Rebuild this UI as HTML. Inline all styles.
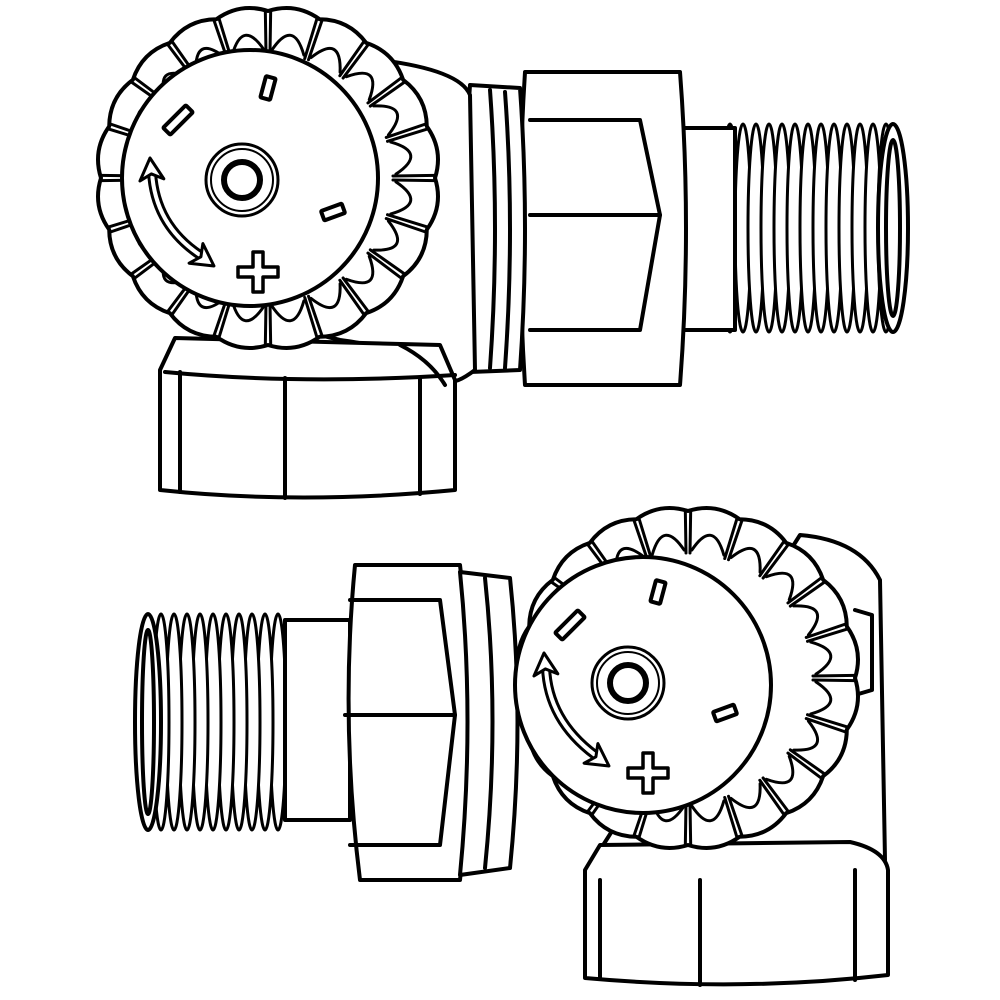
<!DOCTYPE html>
<html><head><meta charset="utf-8"><style>html,body{margin:0;padding:0;background:#fff}svg{display:block}</style></head>
<body>
<svg id="s" width="1000" height="1000" viewBox="0 0 1000 1000" xmlns="http://www.w3.org/2000/svg" fill="#fff" stroke="#000" stroke-width="4" stroke-linejoin="round" stroke-linecap="round">
<g id="top">
  <g id="thr1"></g>
  <ellipse cx="893" cy="228" rx="15" ry="104"/>
  <ellipse cx="893" cy="228" rx="7" ry="88"/>
  <rect x="655" y="128" width="80" height="202"/>
  <path d="M525 72 L680 72 Q692 228 680 385 L525 385 Q515 228 525 72Z"/>
  <path d="M530 120 L640 120 L660 215 L640 330 L530 330" fill="none"/>
  <line x1="530" y1="215" x2="660" y2="215"/>
  <path d="M470 85 L520 88 Q530 228 520 370 L470 372 Q460 228 470 85Z"/>
  <path d="M490 90 Q500 228 490 368" fill="none"/>
  <path d="M505 92 Q515 228 505 368" fill="none"/>
  <path d="M380 60 Q460 70 470 95 L475 370 Q455 385 450 380 L420 360 Q380 345 340 340 L300 330 Z"/>
  <path d="M175 338 L440 345 L455 380 L455 490 Q300 505 160 490 L160 370 Z"/>
  <path d="M165 372 Q300 385 455 375" fill="none"/>
  <line x1="180" y1="372" x2="180" y2="492"/>
  <line x1="285" y1="378" x2="285" y2="498"/>
  <line x1="420" y1="378" x2="420" y2="494"/>
  <path d="M400 345 Q430 360 445 385" fill="none"/>
  <g id="knob1"></g>
</g>
<g id="bot">
  <g id="thr2"></g>
  <rect x="285" y="620" width="65" height="200"/>
  <path d="M355 565 L460 565 Q478 720 460 880 L360 880 Q340 720 355 565Z"/>
  <path d="M350 600 L440 600 L455 715 L440 845 L350 845" fill="none"/>
  <line x1="345" y1="715" x2="455" y2="715"/>
  <path d="M460 572 L510 578 Q525 720 510 868 L460 875 Q475 720 460 572Z"/>
  <path d="M485 578 Q500 720 485 868" fill="none"/>
  <path d="M800 535 Q860 540 880 580 L885 860 Q870 870 850 860 L600 850 Z"/>
  <path d="M855 610 L872 615 L872 690 L855 695" fill="none"/>
  <path d="M600 845 L850 842 Q885 850 888 870 L888 975 Q740 992 585 978 L585 870 Z"/>
  <line x1="600" y1="880" x2="600" y2="978"/>
  <line x1="700" y1="880" x2="700" y2="985"/>
  <line x1="855" y1="870" x2="855" y2="980"/>
  <g id="knob2"></g>
</g>
</svg>
<script>
const NS="http://www.w3.org/2000/svg";
function el(p,t,a){const e=document.createElementNS(NS,t);for(const k in a)e.setAttribute(k,a[k]);p.appendChild(e);return e;}
function threads(g,x0,x1,cy,ry,step,dir){
  const xs=[];for(let x=x0;x<=x1;x+=step)xs.push(x);
  if(dir<0)xs.reverse();
  xs.forEach(x=>{el(g,'ellipse',{cx:x,cy:cy,rx:8,ry:ry,'stroke-width':3});});
}
threads(document.getElementById('thr1'),730,888,228,104,13,1);
threads(document.getElementById('thr2'),148,290,722,108,13,-1);
el(document.getElementById('thr2'),'ellipse',{cx:148,cy:722,rx:13,ry:108});
el(document.getElementById('thr2'),'ellipse',{cx:148,cy:722,rx:6,ry:92});
function P(cx,cy,r,a){return [cx+r*Math.cos(a),cy+r*Math.sin(a)];}
function knob(g,cx,cy,fx,fy,hx,hy,marks,plus){
  const n=20, R=167, B=178;
  let d='';
  for(let i=0;i<n;i++){
    const a0=i/n*2*Math.PI, a1=(i+1)/n*2*Math.PI, am=(a0+a1)/2;
    const p0=P(cx,cy,R,a0),p1=P(cx,cy,R,a1),pm=P(cx,cy,B,am);
    if(i==0)d+=`M${p0[0].toFixed(1)} ${p0[1].toFixed(1)} `;
    d+=`Q${pm[0].toFixed(1)} ${pm[1].toFixed(1)} ${p1[0].toFixed(1)} ${p1[1].toFixed(1)} `;
  }
  el(g,'path',{d:d+'Z'});
  for(let i=0;i<n;i++){
    const a0=i/n*2*Math.PI, a1=(i+1)/n*2*Math.PI, am=(a0+a1)/2;
    [-0.016,0.016].forEach(o=>{
      const q0=P(cx,cy,125,a0+o),q1=P(cx,cy,R,a0+o);
      el(g,'line',{x1:q0[0],y1:q0[1],x2:q1[0],y2:q1[1],'stroke-width':3});
    });
    const s0=P(cx,cy,128,a0+0.03),s1=P(cx,cy,128,a1-0.03),sm=P(cx,cy,162,am);
    el(g,'path',{d:`M${s0[0]} ${s0[1]} Q${sm[0]} ${sm[1]} ${s1[0]} ${s1[1]}`,fill:'none','stroke-width':3});
  }
  el(g,'circle',{cx:fx,cy:fy,r:128});
  el(g,'circle',{cx:hx,cy:hy,r:36,'stroke-width':3});
  el(g,'circle',{cx:hx,cy:hy,r:31,'stroke-width':2});
  el(g,'circle',{cx:hx,cy:hy,r:18,'stroke-width':6});
  marks.forEach(m=>{el(g,'rect',{x:m[0]-5,y:m[1]-m[3]/2,width:10,height:m[3],rx:1,transform:`rotate(${m[2]} ${m[0]} ${m[1]})`});});
  const [px,py]=plus;
  el(g,'path',{d:`M${px-5} ${py-20} h10 v15 h15 v10 h-15 v15 h-10 v-15 h-15 v-10 h15 Z`,'stroke-width':3.5});
}
function arrow(g,x0,y0,x1,y1,cx,cy){
  const d=`M${x0} ${y0} Q${cx} ${cy} ${x1} ${y1}`;
  el(g,'path',{d:d,fill:'none','stroke-width':10});
  el(g,'path',{d:d,fill:'none','stroke':'#fff','stroke-width':4});
}
function head(g,x,y,ang){
  el(g,'path',{d:`M0 0 L-22 -12 L-16 0 L-22 12 Z`,transform:`translate(${x} ${y}) rotate(${ang})`,'stroke-width':3});
}
const g1=document.getElementById('knob1'),g2=document.getElementById('knob2');
knob(g1,268,178,250,178,242,180,[[178,120,45,32],[268,88,15,22],[333,212,70,22]],[258,272]);
knob(g2,688,678,643,685,628,683,[[570,625,45,32],[658,592,15,22],[725,713,70,22]],[648,773]);
arrow(g1,152,172,200,255,155,225);arrow(g2,546,667,595,755,548,720);
head(g1,150,158,-95);head(g1,214,266,35);
head(g2,544,653,-95);head(g2,609,766,35);
</script>
</body></html>
